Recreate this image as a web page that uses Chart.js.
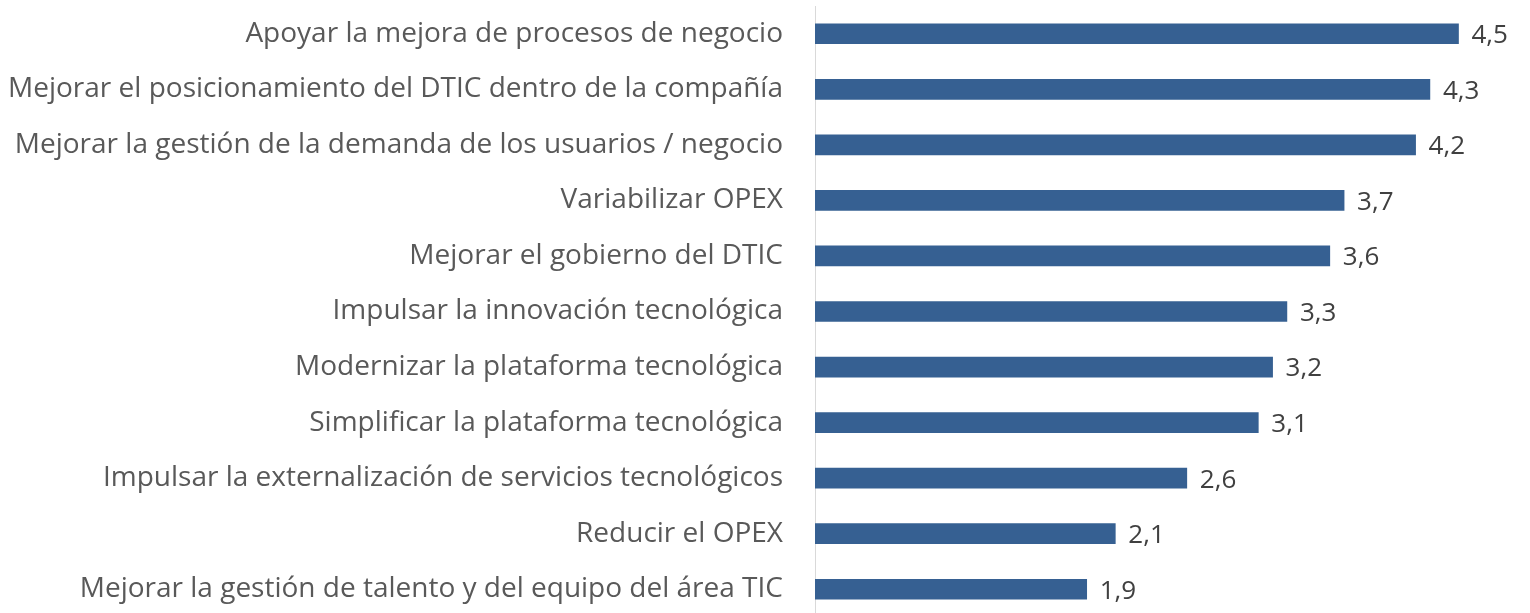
<!DOCTYPE html>
<html>
<head>
<meta charset="utf-8">
<script src="https://cdn.jsdelivr.net/npm/chart.js@4"></script>
<style>
    html, body { margin: 0; padding: 0; background: #fff; overflow: hidden; }
    #wrap { position: relative; width: 1530px; height: 620px; }
</style>
</head>
<body>
<div id="wrap"><canvas id="objChart"></canvas></div>
<script>
// Categories, top to bottom
const categories = [
    'Apoyar la mejora de procesos de negocio',
    'Mejorar el posicionamiento del DTIC dentro de la compañía',
    'Mejorar la gestión de la demanda de los usuarios / negocio',
    'Variabilizar OPEX',
    'Mejorar el gobierno del DTIC',
    'Impulsar la innovación tecnológica',
    'Modernizar la plataforma tecnológica',
    'Simplificar la plataforma tecnológica',
    'Impulsar la externalización de servicios tecnológicos',
    'Reducir el OPEX',
    'Mejorar la gestión de talento y del equipo del área TIC'
];
const scores = [4.5, 4.3, 4.2, 3.7, 3.6, 3.3, 3.2, 3.1, 2.6, 2.1, 1.9];
const axisMin = 0;
const axisMax = 5;

const FONT = "'Open Sans', 'Liberation Sans', sans-serif";

// Draw the value next to each bar (no datalabels plugin offline)
const valueLabels = {
    id: 'valueLabels',
    afterDatasetsDraw(chart) {
        const ctx = chart.ctx;
        const meta = chart.getDatasetMeta(0);
        ctx.save();
        ctx.font = '26px ' + FONT;
        ctx.fillStyle = '#404040';
        ctx.textAlign = 'left';
        ctx.textBaseline = 'middle';
        meta.data.forEach((bar, i) => {
            const txt = scores[i].toFixed(1).replace('.', ',');
            ctx.fillText(txt, bar.x + 13, bar.y + 2);
        });
        ctx.restore();
    }
};

const ctx = document.getElementById('objChart').getContext('2d');
new Chart(ctx, {
    type: 'bar',
    data: {
        labels: categories,
        datasets: [{
            data: scores,
            backgroundColor: '#366092',
            borderWidth: 0,
            barThickness: 20
        }]
    },
    options: {
        indexAxis: 'y',
        responsive: true,
        maintainAspectRatio: false,
        animation: false,
        layout: { padding: { top: 6, right: 0, bottom: 3, left: 0 } },
        plugins: {
            legend: { display: false },
            tooltip: { enabled: false }
        },
        scales: {
            x: {
                display: false,
                min: axisMin,
                max: axisMax
            },
            y: {
                afterFit(scale) {
                    // fixed label column, no extra vertical padding from tick labels
                    scale.width = 815;
                    scale.paddingTop = 0;
                    scale.paddingBottom = 0;
                },
                grid: { display: false, drawTicks: false },
                border: { display: true, color: '#d9d9d9', width: 1 },
                ticks: {
                    padding: 32,
                    color: '#595959',
                    font: { family: FONT, size: 28 }
                }
            }
        }
    },
    plugins: [valueLabels]
});
</script>
</body>
</html>
